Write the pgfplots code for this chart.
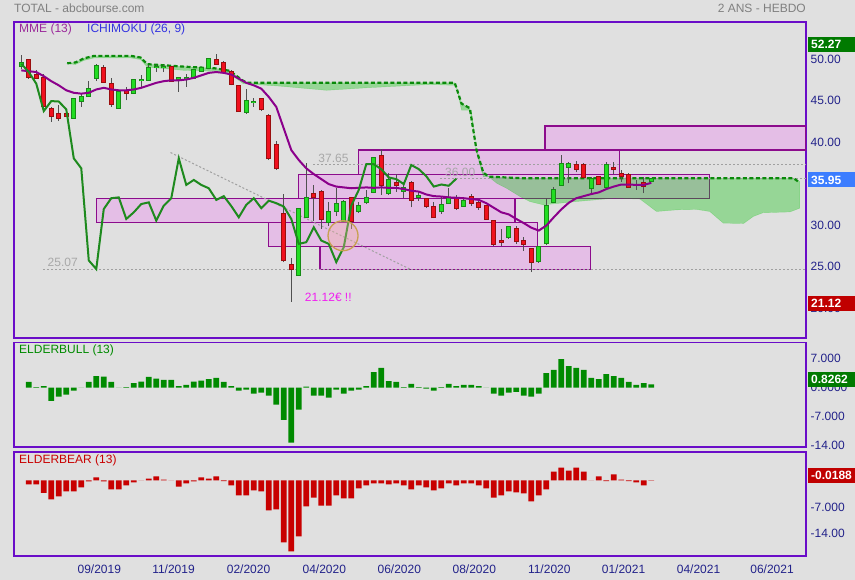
\documentclass[border=0pt]{standalone}
\usepackage{fontspec}
\setmainfont{Liberation Sans}
\usepackage{pgfplots}
\usepackage{pgfplotstable}
\pgfplotsset{compat=1.18}
\definecolor{bg}{HTML}{E0E0E0}
\definecolor{framec}{HTML}{6A0DC8}
\definecolor{tickc}{HTML}{22228A}
\definecolor{titlec}{HTML}{808080}
\definecolor{mmec}{HTML}{9B2A9B}
\definecolor{ichic}{HTML}{3333E0}
\definecolor{gbody}{HTML}{22DD22}
\definecolor{gline}{HTML}{168C16}
\definecolor{rbody}{HTML}{F0101E}
\definecolor{rline}{HTML}{9A0E0E}
\definecolor{wickc}{HTML}{505050}
\definecolor{emac}{HTML}{8B008B}
\definecolor{chikc}{HTML}{1E8A1E}
\definecolor{senkc}{HTML}{0A8A0A}
\definecolor{cloudc}{HTML}{00C400}
\definecolor{boxfill}{HTML}{E4BEE6}
\definecolor{boxline}{HTML}{8C0C8C}
\definecolor{dotc}{HTML}{A0A0A0}
\definecolor{annc}{HTML}{A8A8A8}
\definecolor{magc}{HTML}{F020F0}
\definecolor{bullc}{HTML}{008A00}
\definecolor{bearc}{HTML}{C80000}
\definecolor{lblgreen}{HTML}{007A00}
\definecolor{lblblue}{HTML}{3C7DFF}
\definecolor{lblred}{HTML}{C00000}
\definecolor{circc}{HTML}{C8A050}
\definecolor{circf}{HTML}{F0B0A0}

% green candles: index open high low close
\pgfplotstableread{
x o h l c
1 49.5 50.8 49.2 49.9
8 43.3 45.5 43.3 45.5
9 45.3 46.2 44.6 45.8
10 45.9 47.7 45.9 46.7
11 48.1 49.8 47.7 49.5
14 44.5 46.4 44.5 46.4
16 46.3 47.9 46.2 47.8
17 47.8 48.4 47.0 47.85
18 47.9 49.7 47.9 49.3
19 49.4 49.7 48.8 49.45
20 49.4 49.7 48.8 49.42
22 47.95 48.2 46.4 48.05
23 48.0 48.6 47.0 48.05
24 48.1 49.1 48.1 49.1
25 48.9 49.3 48.9 49.3
26 49.3 50.4 49.3 50.4
31 44.0 46.8 43.8 45.3
32 45.2 45.7 44.6 45.25
38 24.4 32.3 24.3 32.3
39 31.3 37.8 31.2 33.6
42 30.7 33.1 30.3 31.9
43 32.1 34.8 31.5 32.9
44 30.9 33.4 30.7 33.1
46 32.0 33.2 31.8 32.7
47 33.1 34.6 32.9 33.6
48 34.4 38.6 34.2 38.4
50 34.2 36.6 34.0 35.8
52 34.5 35.5 33.6 34.8
54 33.8 34.3 33.3 33.85
57 32.0 33.9 31.7 32.8
58 33.0 34.8 33.0 33.6
60 32.7 33.8 32.6 33.3
66 28.9 30.2 28.7 30.1
70 26.0 27.9 25.8 27.7
71 28.15 33.6 27.95 32.7
72 33.2 35.0 33.1 34.6
73 35.2 38.8 35.1 37.7
74 37.4 38.0 35.4 37.7
77 34.8 36.2 34.2 35.9
79 35.0 38.0 34.9 37.6
83 35.2 35.8 34.6 35.25
85 35.65 36.05 35.5 35.95
}\gc

% red candles: index open high low close
\pgfplotstableread{
x o h l c
2 50.3 50.4 48.0 48.2
3 48.5 49.1 48.0 48.1
4 48.1 48.6 44.6 44.7
5 44.4 44.6 42.8 43.5
6 43.7 44.8 42.9 43.3
7 43.8 44.4 43.5 43.5
12 49.3 49.6 47.6 47.6
13 47.4 48.1 44.6 45.0
15 46.5 47.0 45.4 46.3
21 49.4 49.5 47.7 47.7
27 50.3 51.0 49.8 49.8
28 49.9 50.1 48.6 48.8
29 48.8 49.0 47.2 47.4
30 47.1 47.1 44.0 44.1
33 45.5 45.7 44.1 44.3
34 43.5 43.7 38.2 38.4
35 40.0 40.5 37.0 37.2
36 31.7 34.1 25.9 26.1
37 25.6 26.4 21.12 25.07
40 34.1 35.2 30.9 33.7
41 34.4 34.6 29.9 31.1
45 33.6 33.6 29.9 30.9
49 38.7 39.5 34.0 35.2
51 35.4 36.5 34.4 35.2
53 35.4 35.7 32.5 33.4
55 33.45 33.45 32.45 32.65
56 32.6 33.1 31.2 31.3
59 33.6 34.0 32.2 32.4
61 33.8 34.1 32.7 33.0
62 33.0 33.5 32.2 32.6
63 32.7 32.8 31.0 31.1
64 30.9 30.9 27.9 28.1
65 28.4 29.9 27.9 28.3
67 29.9 30.2 28.1 28.5
68 28.4 28.9 27.3 28.1
69 27.5 27.5 24.7 25.9
75 37.6 38.1 36.7 37.1
76 37.6 37.9 36.0 36.1
78 36.1 36.2 35.2 35.3
80 37.2 38.0 36.5 37.1
81 36.5 37.0 35.6 36.25
82 36.4 36.6 34.9 35.0
84 35.45 36.2 34.2 35.1
}\rc

\pgfplotstableread{
x v
2 1.4
3 0.15
4 0.4
5 -3.2
6 -2.2
7 -1.7
8 -0.7
9 0
10 1.4
11 2.8
12 2.7
13 1.4
14 0
15 0.15
16 1.1
17 1.45
18 2.6
19 2.2
20 1.9
21 1.9
22 0.4
23 0.65
24 1.45
25 1.7
26 2.1
27 2.35
28 1.4
29 0.4
30 -0.7
31 -0.5
32 -1.45
33 -1.2
34 -1.95
35 -4.1
36 -7.8
37 -13.35
38 -5.3
39 0.25
40 -1.95
41 -1.95
42 -2.4
43 -0.5
44 -1.45
45 -0.7
46 -0.5
47 0.4
48 3.8
49 4.8
50 1.6
51 1.4
52 0.15
53 0.9
54 0.15
55 -0.25
56 -0.7
57 0.15
58 0.9
59 0.4
60 0.65
61 0.65
62 0.4
63 0
64 -1.45
65 -1.95
66 -1.2
67 -1.0
68 -1.95
69 -2.2
70 -1.45
71 3.55
72 4.3
73 6.95
74 5.25
75 4.8
76 4.3
77 2.35
78 2.1
79 3.3
80 2.8
81 2.35
82 1.4
83 0.65
84 1.1
85 0.83
}\bull

\pgfplotstableread{
x v
2 -1.05
3 -1.05
4 -3.3
5 -5.0
6 -4.2
7 -2.9
8 -2.9
9 -1.85
10 -0.25
11 0.8
12 -0.25
13 -2.35
14 -2.35
15 -1.3
16 -0.5
17 0
18 0.5
19 1.05
20 0.2
21 0
22 -1.6
23 -0.8
24 -0.25
25 0.8
26 0.5
27 1.05
28 -0.2
29 -1.3
30 -3.95
31 -3.95
32 -2.6
33 -2.9
34 -7.9
35 -7.6
36 -16.3
37 -18.7
38 -14.75
39 -6.85
40 -4.5
41 -6.6
42 -6.6
43 -3.95
44 -4.75
45 -4.75
46 -2.1
47 -1.3
48 -0.8
49 -0.8
50 -1.05
51 -0.8
52 -1.3
53 -2.35
54 -1.3
55 -1.85
56 -2.6
57 -2.1
58 -0.8
59 -1.3
60 -0.8
61 -0.8
62 -1.3
63 -2.1
64 -4.5
65 -3.95
66 -2.9
67 -3.15
68 -3.4
69 -5.5
70 -3.95
71 -2.35
72 2.35
73 3.4
74 2.6
75 3.4
76 2.35
77 0
78 1.05
79 -0.2
80 1.6
81 0.2
82 -0.2
83 -0.5
84 -1.3
85 -0.02
}\bear

\pgfplotsset{
  panel/.style={
    scale only axis, width=792pt,
    xmin=0.03, xmax=105.63,
    axis line style={draw=framec, line width=1.3pt},
    major tick length=0pt, xtick=\empty,
    yticklabel pos=right,
    yticklabel style={font=\fontsize{12}{14}\selectfont, text=tickc, anchor=west, inner sep=0pt, xshift=4.5pt},
    clip mode=individual,
  },
  boxst/.style={fill=boxfill, draw=boxline, line width=1.3pt},
  ebar/.style={only marks, mark=*, mark size=0pt, mark options={draw opacity=0, fill opacity=0},
    error bars/.cd, y dir=plus, y explicit, error mark=none},
}
\newcommand{\lfont}{\fontsize{12}{14}\selectfont}

\begin{document}
\begin{tikzpicture}
\useasboundingbox (0pt,0pt) rectangle (855pt,580pt);
\fill[bg] (0pt,0pt) rectangle (855pt,580pt);

% ===== MAIN PANEL =====
\begin{axis}[panel, at={(14pt,242pt)}, anchor=south west, height=316pt,
  ymin=16.76, ymax=54.83,
  ytick={20,25,30,40,45,50},
  yticklabels={20.00,25.00,30.00,40.00,45.00,50.00},
  yticklabel style={yshift=3pt},
]
% support / resistance boxes
\addplot[boxst] coordinates {(11.0,30.70) (66.83,30.70) (66.83,33.59) (11.0,33.59)} -- cycle;
\addplot[boxst] coordinates {(33.93,27.76) (69.85,27.76) (69.85,30.70) (33.93,30.70)} -- cycle;
\addplot[boxst] coordinates {(40.83,25.04) (76.92,25.04) (76.92,27.76) (40.83,27.76)} -- cycle;
\addplot[boxst] coordinates {(37.93,33.59) (92.73,33.59) (92.73,36.48) (37.93,36.48)} -- cycle;
\addplot[boxst] coordinates {(45.93,36.48) (80.73,36.48) (80.73,39.41) (45.93,39.41)} -- cycle;
\addplot[boxst] coordinates {(70.83,39.41) (105.63,39.41) (105.63,42.30) (70.83,42.30)} -- cycle;
% ichimoku cloud
\addplot[fill=cloudc, fill opacity=0.33, draw=cloudc, draw opacity=0.25] coordinates {
 (7.13,49.85) (8.2,49.95) (9.36,50.45) (10.7,50.75) (15.6,50.75) (16.9,50.55) (17.8,49.75)
 (22.7,49.45) (26.8,49.25) (28.8,48.95) (30.4,47.85) (31.1,47.5) (44.2,47.5) (58.8,47.5)
 (59.7,45.0) (60.8,44.45) (61.7,39.4) (62.6,36.7) (63.3,36.2) (68,36.0) (104,36.0) (104.8,35.6)
 (104.8,32.4) (103.5,31.95) (99.9,31.85) (98.6,31.4) (97.3,30.55) (94.6,30.6) (92.8,32.0)
 (91.05,32.25) (88.4,32.2) (85.7,32.0) (83.5,33.5) (80,33.6) (75,33.2) (70.6,32.8) (68.8,33.2)
 (67.5,33.8) (65.7,34.8) (64.4,35.4) (63.3,36.2) (62.6,36.2) (61.7,39.1) (61,44.2) (59.7,44.2)
 (59,47.2) (55.5,47.3) (47,46.9) (41.7,46.6) (35.5,47.1) (30.6,47.4) (28.8,48.6) (26.8,48.9)
 (22.7,49.0) (17.8,49.4) (16.9,50.3) (15.6,50.5) (10.7,50.5) (9.36,50.2) (8.2,49.7) (7.13,49.85)
} -- cycle;
% dotted reference lines
\addplot[dotc, line width=1pt, dash pattern=on 2pt off 2pt] coordinates {(3.9,25.07) (105.63,25.07)};
\addplot[dotc, line width=1pt, dash pattern=on 2pt off 2pt] coordinates {(39.9,37.65) (105.63,37.65)};
\addplot[dotc, line width=1pt, dash pattern=on 2pt off 2pt] coordinates {(56.8,36.0) (105.63,36.0)};
\addplot[dotc, line width=1pt, dash pattern=on 2pt off 2pt] coordinates {(20.9,39.1) (52.8,25.07)};
% senkou span (dashed)
\addplot[senkc, line width=2.2pt, dash pattern=on 4pt off 2.5pt] coordinates {
 (7.13,49.85) (8.2,49.95) (9.36,50.45) (10.7,50.75) (15.6,50.75) (16.9,50.55) (17.8,49.75)
 (22.7,49.45) (26.8,49.25) (28.8,48.95) (30.4,47.85) (31.1,47.5) (44.2,47.5) (58.8,47.5)
 (59.7,45.0) (60.8,44.45) (61.7,39.4) (62.6,36.7) (63.3,36.2) (68,36.0) (104,36.0) (104.6,35.6)};
% candles: wicks
\addplot[ebar, error bar style={draw=wickc, line width=1pt}]
  table[x=x, y=l, y error plus expr=\thisrow{h}-\thisrow{l}] {\gc};
\addplot[ebar, error bar style={draw=wickc, line width=1pt}]
  table[x=x, y=l, y error plus expr=\thisrow{h}-\thisrow{l}] {\rc};
% candle bodies (outline then fill)
\addplot[ebar, error bar style={draw=gline, line width=5.2pt}]
  table[x=x, y expr=\thisrow{o}-0.12, y error plus expr=\thisrow{c}-\thisrow{o}+0.24] {\gc};
\addplot[ebar, error bar style={draw=gbody, line width=3.2pt}]
  table[x=x, y=o, y error plus expr=\thisrow{c}-\thisrow{o}] {\gc};
\addplot[ebar, error bar style={draw=rline, line width=5.2pt}]
  table[x=x, y expr=\thisrow{c}-0.12, y error plus expr=\thisrow{o}-\thisrow{c}+0.24] {\rc};
\addplot[ebar, error bar style={draw=rbody, line width=3.2pt}]
  table[x=x, y=c, y error plus expr=\thisrow{o}-\thisrow{c}] {\rc};
% MME 13
\addplot[emac, line width=2pt] coordinates {
(1,49.0)(2,48.9)(3,48.8)(4,48.3)(5,47.7)(6,47.2)(7,46.6)(8,46.3)(9,46.2)(10,46.3)(11,46.7)(12,46.9)(13,46.7)(14,46.6)(15,46.6)(16,46.7)(17,46.9)(18,47.2)(19,47.5)(20,47.7)(21,47.8)(22,47.8)(23,47.9)(24,48.1)(25,48.4)(26,48.7)(27,48.8)(28,48.7)(29,48.5)(30,48.0)(31,47.5)(32,47.2)(33,46.8)(34,45.8)(35,44.6)(36,42.0)(37,39.4)(38,38.2)(39,37.2)(40,36.5)(41,35.9)(42,35.3)(43,35.0)(44,34.9)(45,34.8)(46,34.85)(47,34.9)(48,34.85)(49,34.9)(50,34.85)(51,34.85)(52,34.7)(53,34.5)(54,34.4)(55,34.05)(56,33.85)(57,33.8)(58,33.7)(59,33.65)(60,33.6)(61,33.5)(62,33.4)(63,33.0)(64,32.45)(65,31.9)(66,31.65)(67,31.1)(68,30.6)(69,30.05)(70,29.7)(71,30.3)(72,31.3)(73,32.25)(74,33.05)(75,33.6)(76,33.85)(77,34.1)(78,34.3)(79,34.7)(80,35.0)(81,35.25)(82,35.25)(83,35.2)(84,35.2)(85,35.45)};
% chikou span
\addplot[chikc, line width=2pt] coordinates {
(1,49.8)(2,48.8)(3,47.4)(4,44.1)(5,45.3)(6,45.25)(7,44.3)(8,38.4)(9,37.2)(10,26.1)(11,25.07)(12,32.3)(13,33.6)(14,33.7)(15,31.1)(16,31.9)(17,32.9)(18,33.1)(19,30.9)(20,32.7)(21,33.6)(22,38.4)(23,35.2)(24,35.8)(25,35.2)(26,34.8)(27,33.4)(28,33.85)(29,32.65)(30,31.3)(31,32.8)(32,33.6)(33,32.4)(34,33.3)(35,33.0)(36,32.6)(37,31.1)(38,28.1)(39,28.3)(40,30.1)(41,28.5)(42,28.1)(43,25.9)(44,27.7)(45,32.7)(46,34.6)(47,37.7)(48,37.7)(49,37.1)(50,36.1)(51,35.9)(52,35.3)(53,37.6)(54,37.1)(55,36.25)(56,35.0)(57,35.25)(58,35.1)(59,35.95)};
% highlight circle
\addplot[only marks, mark=*, mark size=15pt, mark options={fill=circf, fill opacity=0.35, draw=circc, line width=1.3pt}] coordinates {(43.9,29.08)};
% annotations
\node[anchor=south west, inner sep=0pt, text=annc, font=\lfont, yshift=2pt] at (axis cs:40.6,37.65) {37.65};
\node[anchor=south west, inner sep=0pt, text=annc, font=\lfont, yshift=1.5pt] at (axis cs:57.5,36.0) {36.00};
\node[anchor=south west, inner sep=0pt, text=annc, font=\lfont, yshift=2.5pt] at (axis cs:4.5,25.07) {25.07};
\node[anchor=west, inner sep=0pt, text=magc, font=\lfont] at (axis cs:38.8,21.7) {21.12€ !!};
\end{axis}

% ===== ELDERBULL =====
\begin{axis}[panel, at={(14pt,133pt)}, anchor=south west, height=104.5pt,
  ymin=-14.4, ymax=10.97,
  ytick={-14,-7,0,7}, yticklabels={-14.00,-7.000,0.0000,7.000},
]
\addplot[ybar, bar width=5.6pt, fill=bullc, draw=none] table[x=x, y=v] {\bull};
\end{axis}

% ===== ELDERBEAR =====
\begin{axis}[panel, at={(14pt,24pt)}, anchor=south west, height=104pt,
  ymin=-19.9, ymax=7.5,
  ytick={-14,-7}, yticklabels={-14.00,-7.000},
  xtick={11.4,21.3,31.3,41.4,51.4,61.4,71.4,81.3,91.3,101.1},
  xticklabels={09/2019,11/2019,02/2020,04/2020,06/2020,08/2020,11/2020,01/2021,04/2021,06/2021},
  xticklabel style={font=\lfont, text=tickc, inner sep=0pt, anchor=north, yshift=-9pt},
]
\addplot[ybar, bar width=5.6pt, fill=bearc, draw=none] table[x=x, y=v] {\bear};
\end{axis}

% titles and legends
\node[anchor=west, inner sep=0pt, text=titlec, font=\lfont] at (14pt,571.5pt) {TOTAL - abcbourse.com};
\node[anchor=east, inner sep=0pt, text=titlec, font=\lfont] at (806pt,571.5pt) {2 ANS - HEBDO};
\node[anchor=west, inner sep=0pt, text=mmec, font=\lfont] at (19pt,550.5pt) {MME (13)};
\node[anchor=west, inner sep=0pt, text=ichic, font=\lfont] at (87pt,550.5pt) {ICHIMOKU (26, 9)};
\node[anchor=west, inner sep=0pt, text=bullc, font=\lfont] at (19pt,229.3pt) {ELDERBULL (13)};
\node[anchor=west, inner sep=0pt, text=bearc, font=\lfont] at (19pt,120pt) {ELDERBEAR (13)};

% last-value tags
\tikzset{tag/.style={anchor=west, text=white, font=\lfont\bfseries, inner xsep=3pt, inner ysep=0pt, text width=41pt, align=left, minimum height=15pt}}
\node[tag, fill=lblgreen] at (808pt,535.3pt) {52.27};
\node[tag, fill=lblblue] at (808pt,400pt) {35.95};
\node[tag, fill=lblred] at (808pt,276.7pt) {21.12};
\node[tag, fill=lblgreen] at (808pt,200.5pt) {0.8262};
\node[tag, fill=lblred] at (808pt,104.2pt) {-0.0188};
\end{tikzpicture}
\end{document}
